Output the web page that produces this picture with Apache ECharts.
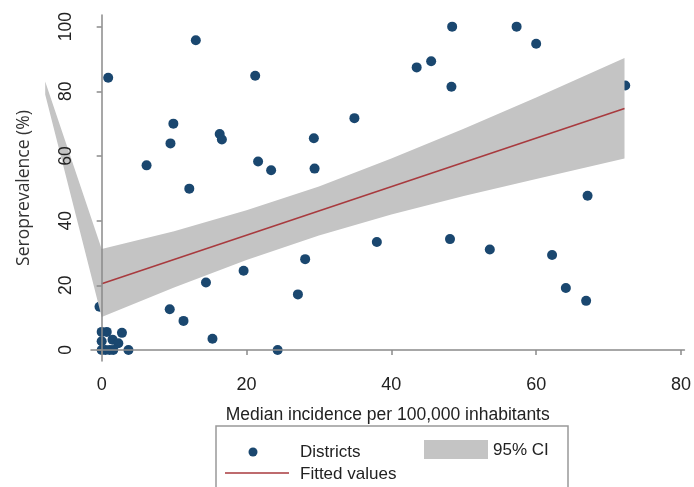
<!DOCTYPE html>
<html>
<head>
<meta charset="utf-8">
<script src="https://cdn.jsdelivr.net/npm/echarts@6/dist/echarts.min.js"></script>
<style>html,body{margin:0;padding:0;background:#fff;}#c{width:694px;height:487px;}</style>
</head>
<body>
<div id="c"></div>
<script>
// ---- data ----
const districtX = [0.9, 13.0, 21.2, 9.9, 9.5, 16.3, 16.6, 29.3, 6.2, 21.6, 23.4, 29.4, 12.1,
  48.4, 57.3, 60.0, 43.5, 45.5, 48.3, 34.9, 72.3,
  67.1, 38.0, 48.1, 53.6, 62.2, 64.1, 66.9,
  28.1, 19.6, 14.4, 27.1, 9.4, 11.3, 15.3, 24.3,
  -0.3, 0, 0.7, 2.8, 0, 1.5, 2.3, 0, 0.5, 1.1, 1.6, 3.7];
const districtY = [84.2, 95.8, 84.8, 70.0, 63.9, 66.8, 65.1, 65.5, 57.1, 58.3, 55.6, 56.1, 49.9,
  100, 100, 94.7, 87.4, 89.3, 81.4, 71.7, 81.8,
  47.7, 33.4, 34.3, 31.1, 29.4, 19.2, 15.2,
  28.1, 24.5, 20.9, 17.2, 12.6, 9.0, 3.5, 0,
  13.4, 5.6, 5.6, 5.3, 2.7, 3.2, 2.1, 0, 0, 0, 0, 0];
const fitX = [0, 72.2];
const fitY = [20.5, 74.7];
const ciX = [-7.8, 0, 10, 20, 30, 40, 50, 60, 72.2];
const ciUpper = [83, 31.2, 36.7, 43.2, 50.6, 59.2, 68.4, 78.1, 90.3];
const ciLower = [79, 10.2, 19.3, 27.8, 35.4, 41.9, 47.6, 52.9, 59.2];
const xTicks = [0, 20, 40, 60, 80];
const yTicks = [0, 20, 40, 60, 80, 100];
const xTitle = 'Median incidence per 100,000 inhabitants';
const yTitle = 'Seroprevalence (%)';
const legendNames = ['Districts', '95% CI', 'Fitted values'];

// ---- styling ----
const NAVY = '#1a476f', BAND = '#c4c4c4', RED = '#a83a3e', AXIS = '#8a8a8a', TXT = '#222';
const FONT = '"Liberation Sans", Arial, Helvetica, sans-serif';

const scatterData = districtX.map((x, i) => [x, districtY[i]]);
const fitData = fitX.map((x, i) => [x, fitY[i]]);
const ciData = ciX.map((x, i) => [x, ciUpper[i], ciLower[i]]);

const chart = echarts.init(document.getElementById('c'), null, {renderer: 'canvas'});
chart.setOption({
  animation: false,
  backgroundColor: '#fff',
  grid: {left: 91, top: 15, width: 595, height: 346, containLabel: false},
  xAxis: {
    type: 'value', min: -1.474, max: 80.48, z: 10,
    name: xTitle, nameLocation: 'middle', nameGap: 45,
    nameTextStyle: {fontFamily: FONT, fontSize: 17.5, color: TXT},
    axisLine: {show: true, lineStyle: {color: AXIS, width: 1.5}},
    axisTick: {show: true, length: 5, customValues: xTicks, lineStyle: {color: AXIS, width: 1.5}},
    axisLabel: {customValues: xTicks, margin: 15, fontFamily: FONT, fontSize: 18, color: TXT},
    splitLine: {show: false}
  },
  yAxis: {
    type: 'value', min: -3.4, max: 103.6, z: 10,
    name: yTitle, nameLocation: 'middle', nameGap: 58, nameRotate: 90,
    nameTextStyle: {fontFamily: '"Open Sans", sans-serif', fontSize: 17.5, color: '#333'},
    axisLine: {show: true, lineStyle: {color: AXIS, width: 1.5}},
    axisTick: {show: true, length: 5, customValues: yTicks, lineStyle: {color: AXIS, width: 1.5}},
    axisLabel: {customValues: yTicks, rotate: 90, margin: 16, fontFamily: FONT, fontSize: 17.5, color: TXT},
    splitLine: {show: false}
  },
  series: [
    {
      name: legendNames[0], type: 'scatter', data: scatterData, z: 2,
      symbol: 'circle', symbolSize: 10, itemStyle: {color: NAVY, opacity: 1}
    },
    {
      name: legendNames[1], type: 'custom', data: ciData, z: 3, clip: false,
      itemStyle: {color: BAND},
      renderItem: function (params, api) {
        if (params.dataIndex !== 0) return null;
        const up = ciData.map(d => api.coord([d[0], d[1]]));
        const lo = ciData.slice().reverse().map(d => api.coord([d[0], d[2]]));
        return {type: 'polygon', shape: {points: up.concat(lo)}, style: {fill: BAND, stroke: null}, silent: true};
      }
    },
    {
      name: legendNames[2], type: 'line', data: fitData, z: 4,
      showSymbol: false, lineStyle: {color: RED, width: 1.6}, itemStyle: {color: RED}
    }
  ],
  graphic: [
    {type: 'rect', shape: {x: 216, y: 426, width: 352, height: 80}, style: {fill: null, stroke: '#999', lineWidth: 1.5}, z: 10},
    {type: 'circle', shape: {cx: 253, cy: 452, r: 4.5}, style: {fill: NAVY}, z: 10},
    {type: 'text', x: 300, y: 452, style: {text: legendNames[0], font: '17px ' + FONT, fill: TXT, verticalAlign: 'middle'}, z: 10},
    {type: 'rect', shape: {x: 424, y: 440, width: 64, height: 19}, style: {fill: BAND}, z: 10},
    {type: 'text', x: 493, y: 450, style: {text: legendNames[1], font: '17px ' + FONT, fill: TXT, verticalAlign: 'middle'}, z: 10},
    {type: 'line', shape: {x1: 225, y1: 473, x2: 289, y2: 473}, style: {stroke: RED, lineWidth: 1.6}, z: 10},
    {type: 'text', x: 300, y: 474, style: {text: legendNames[2], font: '17px ' + FONT, fill: TXT, verticalAlign: 'middle'}, z: 10}
  ]
});
</script>
</body>
</html>
